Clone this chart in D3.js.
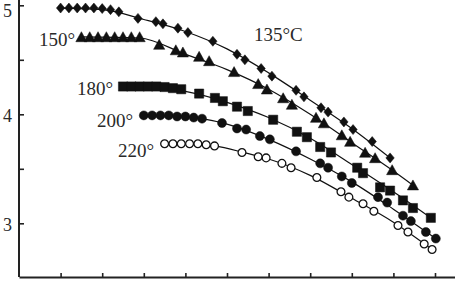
<!DOCTYPE html>
<meta charset="utf-8">
<style>
    body { margin: 0; background: #fff; }
    text { font-family: "Liberation Serif", "Times New Roman", serif; fill: #2a2a2a; }
</style>
<body>
<svg width="455" height="281"></svg>
<script src="https://cdn.jsdelivr.net/npm/d3@7/dist/d3.min.js"></script>
<script>
    // x axis has ticks only, no labels
    var xTicks = [1, 2, 3, 4, 5, 6, 7, 8, 9, 10];
    var yTicks = [3, 3.5, 4, 4.5, 5];
    var yTickLabels = ["3", "", "4", "", "5"];

    // 135°C, diamonds
    var d135x = [1.0, 1.2, 1.4, 1.6, 1.8, 2.0, 2.2, 2.4, 2.86, 3.29, 3.46, 3.82, 4.06, 4.66, 5.24, 5.43, 5.82, 6.08, 6.66, 6.85, 7.26, 7.43, 7.81, 8.03, 8.49, 8.92];
    var d135y = [4.975, 4.975, 4.975, 4.975, 4.975, 4.97, 4.96, 4.94, 4.88, 4.85, 4.83, 4.79, 4.75, 4.67, 4.55, 4.50, 4.42, 4.35, 4.22, 4.16, 4.06, 4.02, 3.93, 3.86, 3.75, 3.60];
    var f135x = [1.0, 2.0, 3.0, 4.0, 5.0, 6.0, 7.0, 8.0, 8.92];
    var f135y = [4.975, 4.96, 4.87, 4.76, 4.60, 4.38, 4.13, 3.87, 3.60];

    // 150°, triangles
    var d150x = [1.5, 1.7, 1.9, 2.1, 2.3, 2.5, 2.7, 2.9, 3.37, 3.77, 3.94, 4.33, 4.57, 5.17, 5.75, 5.96, 6.35, 6.56, 7.14, 7.33, 7.76, 7.96, 8.32, 8.56, 8.97, 9.47];
    var d150y = [4.71, 4.71, 4.71, 4.71, 4.71, 4.71, 4.71, 4.71, 4.64, 4.59, 4.57, 4.53, 4.49, 4.39, 4.28, 4.23, 4.15, 4.09, 3.97, 3.92, 3.81, 3.75, 3.65, 3.60, 3.49, 3.35];
    var f150x = [1.5, 2.9, 4.0, 5.0, 6.0, 7.0, 8.0, 9.0, 9.47];
    var f150y = [4.71, 4.70, 4.55, 4.41, 4.23, 4.00, 3.74, 3.48, 3.35];

    // 180°, squares
    var d180x = [2.5, 2.7, 2.9, 3.1, 3.3, 3.5, 3.7, 3.9, 4.33, 4.71, 4.90, 5.24, 5.50, 6.11, 6.68, 6.92, 7.24, 7.50, 8.13, 8.27, 8.68, 8.92, 9.23, 9.47, 9.90];
    var d180y = [4.255, 4.255, 4.255, 4.255, 4.255, 4.25, 4.24, 4.23, 4.19, 4.15, 4.12, 4.07, 4.03, 3.95, 3.84, 3.79, 3.70, 3.65, 3.51, 3.46, 3.33, 3.30, 3.21, 3.14, 3.05];
    var f180x = [2.5, 3.3, 4.0, 5.0, 6.0, 7.0, 8.0, 9.0, 9.9];
    var f180y = [4.255, 4.25, 4.21, 4.11, 3.97, 3.78, 3.54, 3.29, 3.05];

    // 200°, filled circles
    var d200x = [3.0, 3.2, 3.4, 3.6, 3.8, 4.0, 4.2, 4.4, 4.88, 5.24, 5.46, 5.79, 6.03, 6.66, 7.24, 7.43, 7.76, 8.00, 8.63, 8.85, 9.23, 9.42, 9.78, 10.02];
    var d200y = [3.99, 3.99, 3.99, 3.99, 3.98, 3.98, 3.97, 3.96, 3.92, 3.87, 3.86, 3.80, 3.77, 3.66, 3.55, 3.51, 3.43, 3.37, 3.24, 3.19, 3.07, 3.02, 2.92, 2.86];
    var f200x = [3.0, 4.0, 4.4, 5.0, 6.0, 7.0, 8.0, 9.0, 10.02];
    var f200y = [3.99, 3.98, 3.96, 3.91, 3.77, 3.59, 3.38, 3.13, 2.86];

    // 220°, open circles
    var d220x = [3.5, 3.7, 3.9, 4.1, 4.3, 4.5, 4.7, 5.36, 5.75, 5.94, 6.32, 6.54, 7.16, 7.74, 7.93, 8.27, 8.53, 9.11, 9.35, 9.74, 9.93];
    var d220y = [3.73, 3.73, 3.73, 3.73, 3.73, 3.72, 3.71, 3.65, 3.61, 3.60, 3.55, 3.51, 3.42, 3.29, 3.24, 3.18, 3.11, 2.98, 2.92, 2.81, 2.76];
    var f220x = [3.5, 4.5, 4.7, 5.4, 6.0, 7.0, 8.0, 9.0, 9.93];
    var f220y = [3.73, 3.72, 3.71, 3.65, 3.59, 3.44, 3.23, 3.01, 2.76];

    var seriesLabels = ["135°C", "150°", "180°", "200°", "220°"];

    var svg = d3.select("svg");

    var x = d3.scaleLinear().domain([0, 10.5]).range([19, 455.8]);
    var y = d3.scaleLinear().domain([3, 5]).range([223.3, 5.3]);
    var yBottom = 277;

    function zip(xs, ys) {
        return xs.map(function(v, i) { return [v, ys[i]]; });
    }

    // marker shapes
    function diamond(s) { return "M0,-5L4.2,0L0,5L-4.2,0Z"; }
    function triangle(s) { return "M0,-5.2L5.6,4.8L-5.6,4.8Z"; }
    function square(s) { return "M-4.6,-4.6H4.6V4.6H-4.6Z"; }
    function circle(s) { return "M4.5,0A4.5,4.5 0 1,1 -4.5,0A4.5,4.5 0 1,1 4.5,0Z"; }
    function ring(s) { return "M3.9,0A3.9,3.9 0 1,1 -3.9,0A3.9,3.9 0 1,1 3.9,0Z"; }

    var series = [
        { pts: zip(d135x, d135y), fit: zip(f135x, f135y), shape: diamond, fill: "#111" },
        { pts: zip(d150x, d150y), fit: zip(f150x, f150y), shape: triangle, fill: "#111" },
        { pts: zip(d180x, d180y), fit: zip(f180x, f180y), shape: square, fill: "#111" },
        { pts: zip(d200x, d200y), fit: zip(f200x, f200y), shape: circle, fill: "#111" },
        { pts: zip(d220x, d220y), fit: zip(f220x, f220y), shape: ring, fill: "#fff" }
    ];

    var line = d3.line()
        .x(function(d) { return x(d[0]); })
        .y(function(d) { return y(d[1]); })
        .curve(d3.curveMonotoneX);

    series.forEach(function(s) {
        svg.append("path")
            .attr("d", line(s.fit))
            .attr("fill", "none")
            .attr("stroke", "#111")
            .attr("stroke-width", 1.2);

        svg.append("g").selectAll("path")
            .data(s.pts)
            .enter().append("path")
            .attr("transform", function(d) { return "translate(" + x(d[0]) + "," + y(d[1]) + ")"; })
            .attr("d", s.shape)
            .attr("fill", s.fill)
            .attr("stroke", "#111")
            .attr("stroke-width", s.fill == "#fff" ? 1.3 : 0.5);
    });

    // axes, ticks pointing inward
    var yAxis = d3.axisLeft(y)
        .tickValues(yTicks)
        .tickSizeInner(-5)
        .tickSizeOuter(0)
        .tickPadding(7)
        .tickFormat(function(d, i) { return yTickLabels[i]; });

    var gy = svg.append("g").attr("transform", "translate(19,0)").call(yAxis);
    gy.select(".domain").attr("d", "M0,0V" + yBottom);
    gy.selectAll("text")
        .attr("font-size", 18)
        .attr("font-family", null)
        .attr("dy", function(d) { return d == 5 ? "0.62em" : "0.42em"; });

    var xAxis = d3.axisBottom(x)
        .tickValues(xTicks)
        .tickSizeInner(-4)
        .tickSizeOuter(0)
        .tickFormat("");

    var gx = svg.append("g").attr("transform", "translate(0," + yBottom + ")").call(xAxis);

    svg.selectAll(".domain").attr("stroke", "#222").attr("stroke-width", 2);
    svg.selectAll(".tick line").attr("stroke", "#222").attr("stroke-width", 1.6);

    // series labels
    var labelPos = [[254, 41], [39, 46], [77, 95], [97, 127], [118, 157]];
    svg.selectAll(".slabel")
        .data(seriesLabels)
        .enter().append("text")
        .attr("class", "slabel")
        .attr("x", function(d, i) { return labelPos[i][0]; })
        .attr("y", function(d, i) { return labelPos[i][1]; })
        .attr("font-size", 19)
        .text(function(d) { return d; });
</script>
</body>
